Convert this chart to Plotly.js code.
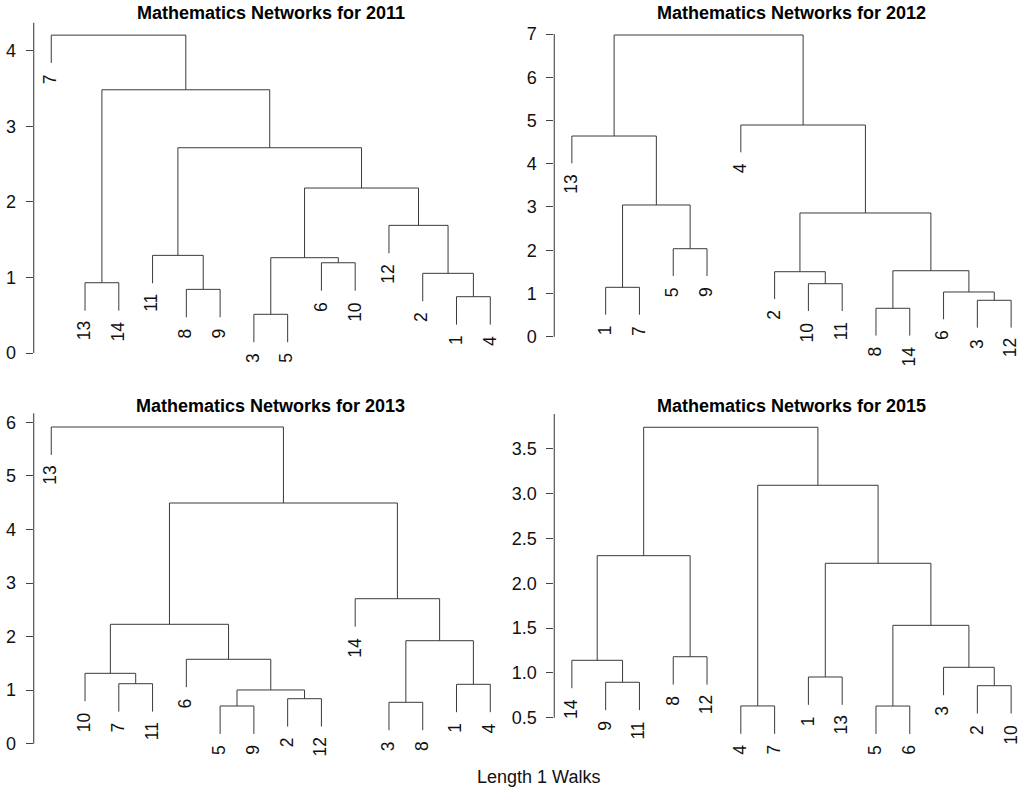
<!DOCTYPE html>
<html><head><meta charset="utf-8">
<script src="https://cdn.plot.ly/plotly-3.0.1.min.js"></script>
<style>html,body{margin:0;padding:0;background:#fff}#chart{width:1020px;height:788px}</style>
</head><body><div id="chart"></div>
<script>
// ---------------- data ----------------
const years = ['2011', '2012', '2013', '2015'];

// leaf order (left to right) of each dendrogram
const order2011 = [7, 13, 14, 11, 8, 9, 3, 5, 6, 10, 12, 2, 1, 4];
const order2012 = [13, 1, 7, 5, 9, 4, 2, 10, 11, 8, 14, 6, 3, 12];
const order2013 = [13, 10, 7, 11, 6, 5, 9, 2, 12, 14, 3, 8, 1, 4];
const order2015 = [14, 9, 11, 8, 12, 4, 7, 1, 13, 5, 6, 3, 2, 10];

// merge steps (hclust style: negative = single node, positive = earlier step)
const mergeA2011 = [-3, -1, -8, -13, -2, -6, 1, -11, -12, 7, 8, 4, -7];
const mergeB2011 = [-5, -4, -9, -14, 2, -10, 6, 3, 5, 9, 10, 11, 12];
const height2011 = [0.512, 0.745, 0.842, 0.930, 1.054, 1.194, 1.261, 1.292, 1.689, 2.183, 2.716, 3.483, 4.206];

const mergeA2012 = [-8, -3, -6, -1, -10, -2, 1, -5, 6, 4, -13, -4, 11];
const mergeB2012 = [-14, -12, 2, -7, -11, 5, 3, -9, 7, 8, 10, 9, 12];
const height2012 = [0.657, 0.842, 1.034, 1.142, 1.226, 1.503, 1.526, 2.035, 2.861, 3.046, 4.641, 4.896, 6.977];

const mergeA2013 = [-5, -3, -2, 1, -1, -7, -10, -6, 2, 7, -14, 10, -13];
const mergeB2013 = [-9, -8, -12, 3, -4, -11, 6, 4, 5, 8, 9, 11, 12];
const height2013 = [0.704, 0.773, 0.840, 1.003, 1.109, 1.120, 1.314, 1.576, 1.923, 2.229, 2.707, 4.494, 5.913];

const mergeA2015 = [-4, -5, -2, -9, -1, -3, -14, -8, 2, 5, 7, 1, 11];
const mergeB2015 = [-7, -6, -10, -11, -13, 3, 4, -12, 6, 9, 8, 10, 12];
const height2015 = [0.631, 0.630, 0.857, 0.895, 0.954, 1.062, 1.140, 1.180, 1.530, 2.222, 2.307, 3.092, 3.739];

// y tick labels
const ticks2011 = [0, 1, 2, 3, 4];
const ticks2012 = [0, 1, 2, 3, 4, 5, 6, 7];
const ticks2013 = [0, 1, 2, 3, 4, 5, 6];
const ticks2015 = [0.5, 1.0, 1.5, 2.0, 2.5, 3.0, 3.5];
const tickText2015 = ['0.5', '1.0', '1.5', '2.0', '2.5', '3.0', '3.5'];

const titlePrefix = 'Mathematics Networks for ';
const xTitle = 'Length 1 Walks';

// ---------------- layout geometry (pixels) ----------------
const W = 1020, H = 788;
const geo = [
  {xL: 33.7,  unit: 33.77, v0: 0,   p0: 353.0, s: 75.575, top: 16,  bot: 366, axTop: 4.37,  axBot: 0,   titleY: 13.5},
  {xL: 554.3, unit: 33.79, v0: 0,   p0: 336.7, s: 43.24,  top: 16,  bot: 366, axTop: 7.0,   axBot: 0,   titleY: 13.5},
  {xL: 33.7,  unit: 33.77, v0: 0,   p0: 743.7, s: 53.56,  top: 406, bot: 762, axTop: 6.169, axBot: 0,   titleY: 405.5},
  {xL: 554.3, unit: 33.79, v0: 0.5, p0: 717.7, s: 89.67,  top: 406, bot: 762, axTop: 3.887, axBot: 0.5, titleY: 405.5}
];

const panels = [
  {order: order2011, a: mergeA2011, b: mergeB2011, h: height2011, tv: ticks2011, tt: ticks2011.map(String)},
  {order: order2012, a: mergeA2012, b: mergeB2012, h: height2012, tv: ticks2012, tt: ticks2012.map(String)},
  {order: order2013, a: mergeA2013, b: mergeB2013, h: height2013, tv: ticks2013, tt: ticks2013.map(String)},
  {order: order2015, a: mergeA2015, b: mergeB2015, h: height2015, tv: ticks2015, tt: tickText2015}
];

function dendro(order, mA, mB, h) {
  const pos = {};
  order.forEach((lab, i) => pos[lab] = i + 1);
  const hang = 0.1 * (Math.max(...h) - Math.min(...h));
  const cx = [], xs = [], ys = [], leafY = {};
  function child(c, hm) {
    if (c < 0) { const lab = -c; const yb = hm - hang; leafY[lab] = yb; return {x: pos[lab], y: yb}; }
    return {x: cx[c - 1], y: h[c - 1]};
  }
  for (let k = 0; k < mA.length; k++) {
    const a = child(mA[k], h[k]), b = child(mB[k], h[k]);
    xs.push(a.x, a.x, b.x, b.x, null);
    ys.push(a.y, h[k], h[k], b.y, null);
    cx.push((a.x + b.x) / 2);
  }
  return {xs, ys, leafY, pos};
}

const FONT = 'Liberation Sans, Arial, Helvetica, sans-serif';
const traces = [];
const layout = {
  width: W, height: H,
  margin: {l: 0, r: 0, t: 0, b: 0},
  paper_bgcolor: '#ffffff', plot_bgcolor: 'rgba(0,0,0,0)',
  showlegend: false,
  font: {family: FONT, size: 18, color: '#111'},
  annotations: [], shapes: []
};

panels.forEach((p, i) => {
  const g = geo[i];
  const id = i === 0 ? '' : String(i + 1);
  const xr = 'x' + id, yr = 'y' + id;
  const d = dendro(p.order, p.a, p.b, p.h);
  traces.push({
    type: 'scatter', mode: 'lines', x: d.xs, y: d.ys, xaxis: xr, yaxis: yr,
    line: {color: '#3a3a3a', width: 1}, hoverinfo: 'skip', connectgaps: false
  });
  const fullW = 14.04 * g.unit;
  const xR = Math.min(g.xL + fullW, W);
  layout['xaxis' + id] = {
    domain: [g.xL / W, xR / W], range: [0.48, 0.48 + (xR - g.xL) / g.unit],
    visible: false, anchor: yr, fixedrange: true
  };
  layout['yaxis' + id] = {
    domain: [1 - g.bot / H, 1 - g.top / H],
    range: [g.v0 - (g.bot - g.p0) / g.s, g.v0 + (g.p0 - g.top) / g.s],
    anchor: xr, showgrid: false, zeroline: false, showline: false,
    tickmode: 'array', tickvals: p.tv, ticktext: p.tt,
    ticks: 'outside', ticklen: 7, tickwidth: 1, tickcolor: '#444',
    ticklabelstandoff: 6,
    tickfont: {family: FONT, size: 18, color: '#111'}, fixedrange: true
  };
  layout.shapes.push({
    type: 'line', xref: xr + ' domain', yref: yr, x0: 0, x1: 0, y0: g.axBot, y1: g.axTop,
    line: {color: '#555', width: 1.2}
  });
  layout.annotations.push({
    xref: 'paper', yref: 'paper', x: (g.xL + fullW / 2) / W, y: 1 - g.titleY / H,
    xanchor: 'center', yanchor: 'middle', showarrow: false,
    text: '<b>' + titlePrefix + years[i] + '</b>',
    font: {family: FONT, size: 18, color: '#000'}
  });
  p.order.forEach(lab => {
    layout.annotations.push({
      xref: xr, yref: yr, x: d.pos[lab], y: d.leafY[lab],
      text: String(lab), textangle: -90, showarrow: false,
      xanchor: 'center', yanchor: 'top', yshift: -9, xshift: -1,
      font: {family: FONT, size: 17.5, color: '#111'}
    });
  });
});

layout.annotations.push({
  xref: 'paper', yref: 'paper', x: 538 / W, y: 1 - 777 / H,
  xanchor: 'center', yanchor: 'middle', showarrow: false,
  text: xTitle, font: {family: FONT, size: 18, color: '#111'}
});

Plotly.newPlot('chart', traces, layout, {displayModeBar: false, staticPlot: true});
</script>
</body></html>
